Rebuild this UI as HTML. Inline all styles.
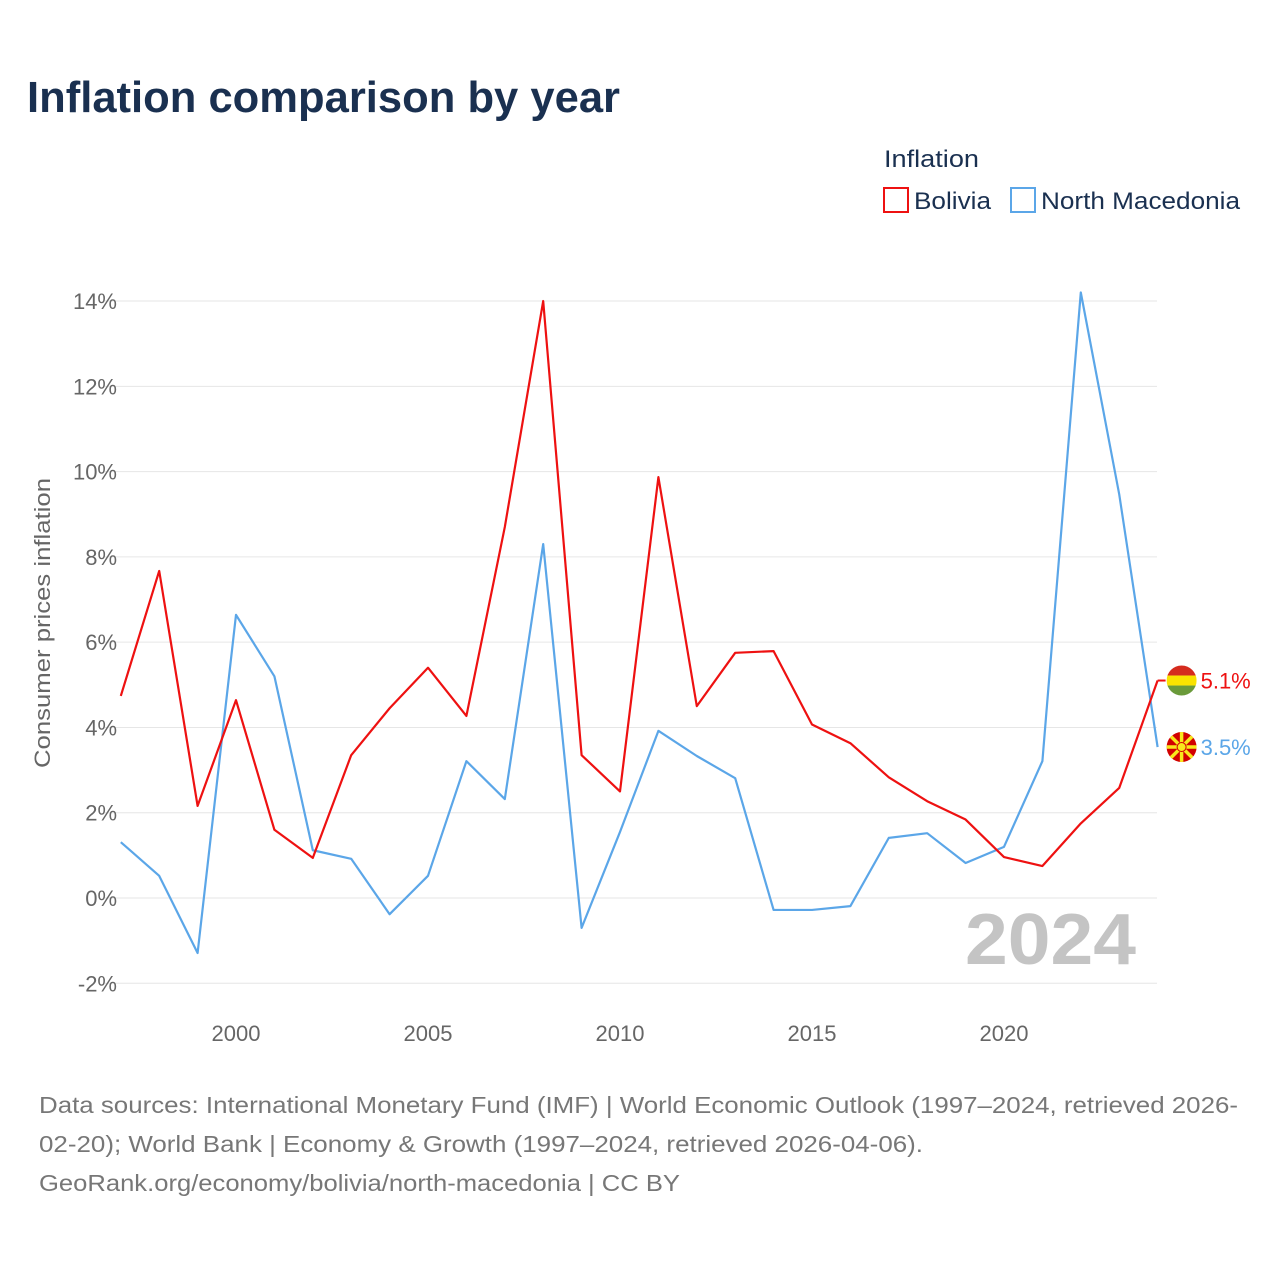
<!DOCTYPE html>
<html><head><meta charset="utf-8"><style>
body{margin:0;background:#fff;font-family:"Liberation Sans",sans-serif;}
</style></head><body>
<svg width="1280" height="1280" xmlns="http://www.w3.org/2000/svg" style="font-family:'Liberation Sans',sans-serif">
<text x="27" y="112" font-size="44" font-weight="bold" fill="#1a3050" textLength="593" lengthAdjust="spacingAndGlyphs">Inflation comparison by year</text>
<text x="884" y="167" font-size="24" fill="#1a3050" textLength="95" lengthAdjust="spacingAndGlyphs">Inflation</text>
<g><rect x="884" y="188" width="24" height="24" fill="none" stroke="#ee1111" stroke-width="2"/><text x="914" y="209" font-size="24" fill="#1a3050" textLength="77" lengthAdjust="spacingAndGlyphs">Bolivia</text></g>
<g><rect x="1011" y="188" width="24" height="24" fill="none" stroke="#5ba6e8" stroke-width="2"/><text x="1041" y="209" font-size="24" fill="#1a3050" textLength="199" lengthAdjust="spacingAndGlyphs">North Macedonia</text></g>
<g id="grid"></g><g id="yt"></g><g id="xt"></g>
<text transform="translate(50,623) rotate(-90)" text-anchor="middle" font-size="22" fill="#666" textLength="290" lengthAdjust="spacingAndGlyphs">Consumer prices inflation</text>
<text x="965" y="964" font-size="72" font-weight="bold" fill="#c4c4c4" textLength="171" lengthAdjust="spacingAndGlyphs">2024</text>
<g id="lines"></g>
<text x="39" y="1113" font-size="23" fill="#777" textLength="1199" lengthAdjust="spacingAndGlyphs">Data sources: International Monetary Fund (IMF) | World Economic Outlook (1997–2024, retrieved 2026-</text>
<text x="39" y="1152" font-size="23" fill="#777" textLength="884" lengthAdjust="spacingAndGlyphs">02-20); World Bank | Economy &amp; Growth (1997–2024, retrieved 2026-04-06).</text>
<text x="39" y="1191" font-size="23" fill="#777" textLength="641" lengthAdjust="spacingAndGlyphs">GeoRank.org/economy/bolivia/north-macedonia | CC BY</text>
</svg>
<script>
const years=[1997,1998,1999,2000,2001,2002,2003,2004,2005,2006,2007,2008,2009,2010,2011,2012,2013,2014,2015,2016,2017,2018,2019,2020,2021,2022,2023,2024];
const bolivia=[4.74,7.67,2.16,4.64,1.6,0.94,3.35,4.45,5.4,4.27,8.7,14.0,3.35,2.5,9.87,4.5,5.75,5.79,4.07,3.63,2.83,2.27,1.84,0.96,0.75,1.75,2.58,5.1];
const macedonia=[1.31,0.52,-1.29,6.64,5.2,1.12,0.92,-0.38,0.52,3.21,2.32,8.3,-0.7,1.55,3.92,3.33,2.81,-0.28,-0.28,-0.19,1.41,1.52,0.82,1.2,3.21,14.2,9.47,3.54];
const yTicks=[-2,0,2,4,6,8,10,12,14];
const xTicks=[2000,2005,2010,2015,2020];
const NS="http://www.w3.org/2000/svg";
const X=y=>120.8+(y-1997)*38.4;
const Y=v=>898-v*42.64;
function mk(t,a,p){const e=document.createElementNS(NS,t);for(const k in a)e.setAttribute(k,a[k]);document.getElementById(p).appendChild(e);return e;}
yTicks.forEach(v=>{
 const l=mk('line',{x1:105,x2:1157,y1:Y(v),y2:Y(v),stroke:'#e6e6e6','stroke-width':1},'grid');
 
 
 const t=mk('text',{x:117,y:Y(v)+8,'text-anchor':'end','font-size':22,fill:'#666'},'yt');
 t.textContent=v+'%';
 
 
});
xTicks.forEach(v=>{
 const t=mk('text',{x:X(v),y:1041,'text-anchor':'middle','font-size':22,fill:'#666'},'xt');
 t.textContent=v;
 
 
});
function line(d,c,name){
 const p=mk('polyline',{points:d.map((v,i)=>X(years[i])+','+Y(v)).join(' '),fill:'none',stroke:c,'stroke-width':2.2,'stroke-linejoin':'round'},'lines');
 
 
}
line(macedonia,'#5ba6e8','line-north-macedonia');
line(bolivia,'#ee1111','line-bolivia');
const lx=X(2024);
const bv=bolivia[bolivia.length-1], mv=macedonia[macedonia.length-1];
const bl=mk('polyline',{points:lx+','+Y(bv)+' '+(lx+8)+','+Y(bv),stroke:'#ee1111','stroke-width':2,fill:'none'},'lines');


const bg=mk('g',{},'lines');


const by=Y(bv);
bg.innerHTML=`<clipPath id="cb"><circle cx="${lx+24}" cy="${by}" r="15"/></clipPath><g clip-path="url(#cb)"><rect x="${lx+9}" y="${by-15}" width="30" height="10" fill="#d52b1e"/><rect x="${lx+9}" y="${by-5}" width="30" height="10" fill="#f9e300"/><rect x="${lx+9}" y="${by+5}" width="30" height="10" fill="#6a9a3a"/></g>`;
const bt=mk('text',{x:lx+43,y:by+8,'font-size':22,fill:'#ee1111'},'lines');
bt.textContent=bv.toFixed(1)+'%';


const my=Y(mv);
const mg=mk('g',{},'lines');


let rays='';for(let i=0;i<8;i++){const a=i*Math.PI/4;rays+=`<line x1="${lx+24}" y1="${my}" x2="${lx+24+18*Math.cos(a)}" y2="${my+18*Math.sin(a)}" stroke="#f8e71c" stroke-width="3.5"/>`;}
mg.innerHTML=`<clipPath id="cm"><circle cx="${lx+24}" cy="${my}" r="15"/></clipPath><g clip-path="url(#cm)"><rect x="${lx+9}" y="${my-15}" width="30" height="30" fill="#d20000"/>${rays}<circle cx="${lx+24}" cy="${my}" r="4.5" fill="#f8e71c" stroke="#d20000" stroke-width="1"/></g>`;
const mt=mk('text',{x:lx+43,y:my+8,'font-size':22,fill:'#5ba6e8'},'lines');
mt.textContent=mv.toFixed(1)+'%';


</script>
</body></html>
